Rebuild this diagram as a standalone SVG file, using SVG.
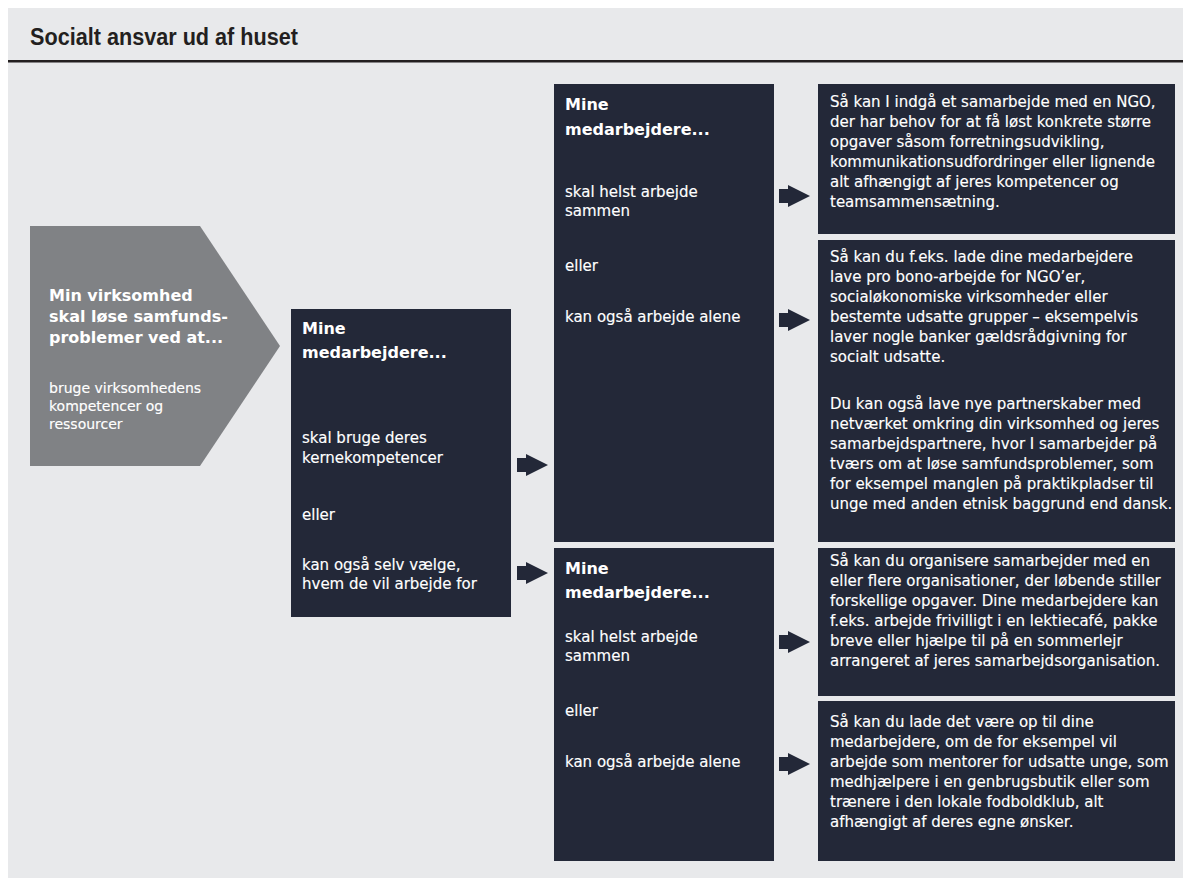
<svg xmlns="http://www.w3.org/2000/svg" xmlns:xlink="http://www.w3.org/1999/xlink" width="1183" height="878" viewBox="0 0 1183 878">
<style>
.box{fill:#232838}
.pent{fill:#808285}
.h{font-family:"DejaVu Sans",sans-serif;font-weight:bold;font-size:16px;fill:#fff}
.b{font-family:"DejaVu Sans",sans-serif;font-size:15px;fill:#fff;stroke:#fff;stroke-width:0.15px}
.s{font-family:"DejaVu Sans",sans-serif;font-size:14px;fill:#fff;stroke:#fff;stroke-width:0.15px}
.title{font-family:"Liberation Sans",Arial,sans-serif;font-weight:bold;font-size:23.5px;fill:#231f20}
.arr{fill:#232838}
</style>
<defs>
<path id="arrow" d="M0,-7 H9 V-11 L31,0 L9,11 V7 H0 Z"/>
</defs>
<rect x="8" y="8" width="1175" height="870" fill="#e8e9eb"/>
<g id="title">
<text class="title" x="30" y="45" textLength="268" lengthAdjust="spacingAndGlyphs">Socialt ansvar ud af huset</text>
<rect x="8" y="60" width="1175" height="2.5" fill="#231f20"/>
</g>
<g id="start">
<polygon class="pent" points="30,226 200,226 280,346 200,466 30,466"/>
<text class="h" x="49" y="301">Min virksomhed</text>
<text class="h" x="49" y="322">skal løse samfunds-</text>
<text class="h" x="49" y="343">problemer ved at...</text>
<text class="s" x="49" y="393">bruge virksomhedens</text>
<text class="s" x="49" y="411">kompetencer og</text>
<text class="s" x="49" y="429">ressourcer</text>
</g>
<g id="mid">
<rect class="box" x="291" y="309" width="220" height="308"/>
<text class="h" x="302" y="334">Mine</text>
<text class="h" x="302" y="358">medarbejdere...</text>
<text class="b" x="302" y="443">skal bruge deres</text>
<text class="b" x="302" y="463">kernekompetencer</text>
<text class="b" x="302" y="520">eller</text>
<text class="b" x="302" y="570">kan også selv vælge,</text>
<text class="b" x="302" y="589">hvem de vil arbejde for</text>
</g>
<g id="core">
<rect class="box" x="554" y="84" width="220" height="458"/>
<text class="h" x="565" y="110">Mine</text>
<text class="h" x="565" y="135">medarbejdere...</text>
<text class="b" x="565" y="197">skal helst arbejde</text>
<text class="b" x="565" y="216">sammen</text>
<text class="b" x="565" y="271">eller</text>
<text class="b" x="565" y="322">kan også arbejde alene</text>
</g>
<g id="free">
<rect class="box" x="554" y="548" width="220" height="313"/>
<text class="h" x="565" y="574">Mine</text>
<text class="h" x="565" y="598">medarbejdere...</text>
<text class="b" x="565" y="642">skal helst arbejde</text>
<text class="b" x="565" y="661">sammen</text>
<text class="b" x="565" y="716">eller</text>
<text class="b" x="565" y="767">kan også arbejde alene</text>
</g>
<g id="r1">
<rect class="box" x="818" y="84" width="357" height="150"/>
<text class="b" x="830" y="107">Så kan I indgå et samarbejde med en NGO,</text>
<text class="b" x="830" y="127">der har behov for at få løst konkrete større</text>
<text class="b" x="830" y="147">opgaver såsom forretningsudvikling,</text>
<text class="b" x="830" y="166.5">kommunikationsudfordringer eller lignende</text>
<text class="b" x="830" y="186.5">alt afhængigt af jeres kompetencer og</text>
<text class="b" x="830" y="206.5">teamsammensætning.</text>
</g>
<g id="r2">
<rect class="box" x="818" y="240" width="357" height="302"/>
<text class="b" x="830" y="262">Så kan du f.eks. lade dine medarbejdere</text>
<text class="b" x="830" y="282">lave pro bono-arbejde for NGO’er,</text>
<text class="b" x="830" y="302">socialøkonomiske virksomheder eller</text>
<text class="b" x="830" y="321.5">bestemte udsatte grupper – eksempelvis</text>
<text class="b" x="830" y="341.5">laver nogle banker gældsrådgivning for</text>
<text class="b" x="830" y="361.5">socialt udsatte.</text>
<text class="b" x="830" y="409">Du kan også lave nye partnerskaber med</text>
<text class="b" x="830" y="429">netværket omkring din virksomhed og jeres</text>
<text class="b" x="830" y="449">samarbejdspartnere, hvor I samarbejder på</text>
<text class="b" x="830" y="468.5">tværs om at løse samfundsproblemer, som</text>
<text class="b" x="830" y="488.5">for eksempel manglen på praktikpladser til</text>
<text class="b" x="830" y="508.5">unge med anden etnisk baggrund end dansk.</text>
</g>
<g id="r3">
<rect class="box" x="818" y="548" width="357" height="148"/>
<text class="b" x="830" y="566">Så kan du organisere samarbejder med en</text>
<text class="b" x="830" y="586">eller flere organisationer, der løbende stiller</text>
<text class="b" x="830" y="606">forskellige opgaver. Dine medarbejdere kan</text>
<text class="b" x="830" y="625.5">f.eks. arbejde frivilligt i en lektiecafé, pakke</text>
<text class="b" x="830" y="645.5">breve eller hjælpe til på en sommerlejr</text>
<text class="b" x="830" y="665.5">arrangeret af jeres samarbejdsorganisation.</text>
</g>
<g id="r4">
<rect class="box" x="818" y="701" width="357" height="160"/>
<text class="b" x="830" y="727">Så kan du lade det være op til dine</text>
<text class="b" x="830" y="747">medarbejdere, om de for eksempel vil</text>
<text class="b" x="830" y="767">arbejde som mentorer for udsatte unge, som</text>
<text class="b" x="830" y="786.5">medhjælpere i en genbrugsbutik eller som</text>
<text class="b" x="830" y="806.5">trænere i den lokale fodboldklub, alt</text>
<text class="b" x="830" y="826.5">afhængigt af deres egne ønsker.</text>
</g>
<g id="connectors" class="arr">
<use xlink:href="#arrow" href="#arrow" x="517" y="465"/>
<use xlink:href="#arrow" href="#arrow" x="517" y="573"/>
<use xlink:href="#arrow" href="#arrow" x="779" y="196"/>
<use xlink:href="#arrow" href="#arrow" x="779" y="320"/>
<use xlink:href="#arrow" href="#arrow" x="779" y="642"/>
<use xlink:href="#arrow" href="#arrow" x="779" y="764"/>
</g>
</svg>
